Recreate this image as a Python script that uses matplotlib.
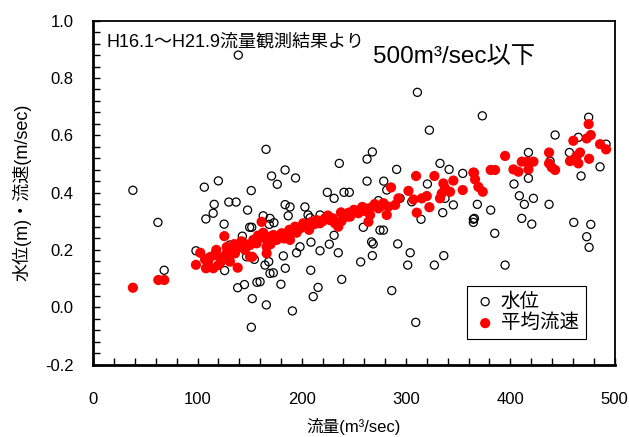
import matplotlib
matplotlib.use("Agg")
import matplotlib.pyplot as plt
from matplotlib.ticker import MultipleLocator

plt.rcParams['font.family'] = ['Liberation Sans', 'Noto Sans CJK JP']

# 水位 (open circles)
level_q = [38, 62, 68, 106.5, 120, 116, 115, 108, 98.5, 125.5, 130, 137, 151.5, 148, 150, 152,
           143, 163, 126, 138.5, 145, 157, 152.5, 166, 151.6, 164.7, 169.5, 131, 147, 154.5,
           165.7, 236, 184, 171, 194, 176.5, 224.5, 231, 240.5, 245.6, 184, 188.7, 203, 187,
           206, 208, 169.5, 173.3, 168.8, 231, 226.4, 235, 217.5, 198.3, 195, 208.8, 182.3,
           168.3, 172.7, 184.2, 208.6, 238.3, 180, 215.6, 211, 191, 310.9, 322.4, 267.7,
           262.6, 291, 262.6, 278.6, 332.6, 341.3, 354.4, 320.5, 281.5, 294.3, 305.5, 273.5,
           337.4, 345.4, 335.2, 314.4, 259, 275, 278.3, 267, 268.5, 292, 304, 301.6, 327.2,
           336.2, 267.7, 256.5, 286.3, 309.3, 364.6, 373.2, 475.2, 443, 465.3, 417.4, 456.7,
           491.9, 486.1, 467.9, 438.2, 417.4, 403.6, 408.7, 422.2, 413.5, 437.2, 368.4,
           381.2, 365.6, 364.6, 411, 420.6, 385.1, 460.9, 477.2, 473.3, 475.6, 395, 139.1,
           217.5, 160]
level_h = [0.408, 0.296, 0.129, 0.419, 0.441, 0.359, 0.328, 0.308, 0.197, 0.290, 0.367, 0.367,
           0.407, 0.339, 0.279, 0.279, 0.248, 0.319, 0.128, 0.068, 0.079, 0.087, 0.030, 0.008,
           -0.070, 0.147, 0.118, 0.217, 0.176, 0.167, 0.551, 0.502, 0.479, 0.458, 0.451,
           0.429, 0.401, 0.380, 0.401, 0.401, 0.358, 0.350, 0.350, 0.319, 0.322, 0.312, 0.310,
           0.295, 0.289, 0.251, 0.220, 0.190, 0.197, 0.211, 0.190, 0.227, 0.179, 0.159, 0.120,
           0.136, 0.129, 0.097, 0.080, 0.069, 0.037, -0.013, 0.750, 0.618, 0.542, 0.517,
           0.481, 0.440, 0.440, 0.502, 0.481, 0.467, 0.430, 0.409, 0.380, 0.368, 0.372, 0.380,
           0.357, 0.330, 0.307, 0.279, 0.269, 0.269, 0.228, 0.221, 0.221, 0.190, 0.147, 0.147,
           0.180, 0.180, 0.158, 0.058, -0.053, 0.307, 0.668, 0.663, 0.601, 0.593, 0.540, 0.540,
           0.569, 0.490, 0.458, 0.510, 0.450, 0.430, 0.389, 0.380, 0.359, 0.359, 0.359, 0.339,
           0.310, 0.296, 0.310, 0.290, 0.258, 0.296, 0.289, 0.246, 0.209, 0.147, 0.880, 0.322,
           0.089]

# 平均流速 (red filled circles)
vel_q = [38, 62.4, 68.1, 102.6, 98.5, 107.2, 108.1, 116.1, 115.1, 125.7, 122.5, 138.5, 161.5,
         156.8, 150.3, 145.5, 139.1, 132.7, 128, 123.2, 119.9, 166.3, 152.5, 124.7, 135.9,
         153.5, 156.7, 161.5, 166.3, 169.5, 172.7, 175.9, 180.7, 185.5, 190.3, 193.5, 198.2,
         201.4, 205.3, 209.4, 214.2, 217.4, 222.2, 227, 231.8, 235, 243, 166.3, 150.3, 131.1,
         188.7, 237.6, 309.6, 327.2, 345.4, 364.6, 354.4, 335.8, 337.4, 334.2, 342.2, 332.6,
         319.9, 315.1, 307.1, 322.4, 310.3, 302.3, 292.7, 285.6, 289.5, 283.1, 278.3, 273.5,
         268.7, 263.9, 260.7, 255.9, 254.3, 265.5, 263.9, 281.5, 246.3, 241.5, 475.2, 477.2,
         473.3, 460.5, 486.1, 491.9, 437.2, 466.9, 463.7, 457.3, 475.6, 465.3, 395, 411,
         416.4, 422.2, 417.4, 407.8, 403, 437.2, 439.8, 443, 381.2, 385.4, 365.2, 366.2,
         369.4, 373.6, 110, 112, 118, 128, 135, 142, 146, 158, 163, 170, 178, 183, 188, 195,
         200, 207, 212, 220, 225, 230, 238, 245, 250, 258, 270, 275]
vel_v = [0.068, 0.095, 0.095, 0.190, 0.148, 0.167, 0.136, 0.182, 0.136, 0.248, 0.159, 0.138,
         0.298, 0.235, 0.217, 0.200, 0.209, 0.195, 0.188, 0.167, 0.147, 0.211, 0.176, 0.176,
         0.188, 0.235, 0.223, 0.246, 0.235, 0.246, 0.252, 0.235, 0.258, 0.252, 0.264, 0.281,
         0.275, 0.293, 0.281, 0.298, 0.304, 0.293, 0.310, 0.304, 0.293, 0.281, 0.316, 0.188,
         0.176, 0.159, 0.235, 0.331, 0.458, 0.458, 0.442, 0.470, 0.409, 0.432, 0.415, 0.397,
         0.403, 0.380, 0.388, 0.380, 0.376, 0.349, 0.330, 0.406, 0.380, 0.418, 0.357, 0.351,
         0.363, 0.345, 0.353, 0.345, 0.336, 0.339, 0.328, 0.322, 0.298, 0.322, 0.316, 0.322,
         0.639, 0.601, 0.589, 0.581, 0.569, 0.551, 0.540, 0.540, 0.528, 0.510, 0.518, 0.502,
         0.528, 0.508, 0.508, 0.508, 0.481, 0.473, 0.481, 0.502, 0.488, 0.479, 0.479, 0.479,
         0.469, 0.446, 0.420, 0.403, 0.16, 0.175, 0.20, 0.21, 0.22, 0.23, 0.22, 0.25, 0.26,
         0.22, 0.25, 0.24, 0.27, 0.26, 0.28, 0.27, 0.29, 0.30, 0.32, 0.31, 0.30, 0.33, 0.34,
         0.35, 0.36, 0.35]

fig = plt.figure(figsize=(6.29, 4.37), dpi=100)
ax = fig.add_axes([0.1483, 0.1659, 0.8287, 0.7867])

ax.scatter(level_q, level_h, s=34, facecolors='none', edgecolors='black',
           linewidths=0.9, label='水位', zorder=3)
ax.scatter(vel_q, vel_v, s=54, color='#ff0000', edgecolors='none',
           label='平均流速', zorder=4)

ax.set_xlim(0, 500)
ax.set_ylim(-0.2, 1.0)
ax.xaxis.set_major_locator(MultipleLocator(100))
ax.xaxis.set_minor_locator(MultipleLocator(20))
ax.yaxis.set_major_locator(MultipleLocator(0.2))
ax.yaxis.set_minor_locator(MultipleLocator(0.04))
ax.tick_params(which='both', direction='in', length=5, width=1, top=False, right=False,
               labelsize=12)
ax.tick_params(axis='x', which='both', pad=20)
ax.tick_params(axis='y', which='both', pad=14)
ax.yaxis.set_major_formatter(plt.FuncFormatter(lambda v, p: f"{v:.1f}"))

for side in ['left', 'bottom']:
    ax.spines[side].set_linewidth(2.0)
for side in ['top', 'right']:
    ax.spines[side].set_linewidth(1.3)

ax.set_xlabel('流量(m³/sec)', fontsize=12, labelpad=8)
ax.set_ylabel('水位(m)・流速(m/sec)', fontsize=13, labelpad=10)

ax.text(0.026, 0.938, 'H16.1～H21.9流量観測結果より', transform=ax.transAxes,
        fontsize=13, va='center', ha='left')
ax.text(0.536, 0.894, '500m³/sec以下', transform=ax.transAxes,
        fontsize=17.5, va='center', ha='left')

leg = ax.legend(loc='lower left', bbox_to_anchor=(0.7164, 0.074), borderaxespad=0,
                fontsize=14, frameon=True, fancybox=False, framealpha=1,
                handletextpad=0.2, borderpad=0.35, labelspacing=0.15, handlelength=1.2,
                markerscale=1.0)
leg.get_frame().set_edgecolor('black')
leg.get_frame().set_linewidth(0.8)

fig.savefig('out.png', dpi=100)
